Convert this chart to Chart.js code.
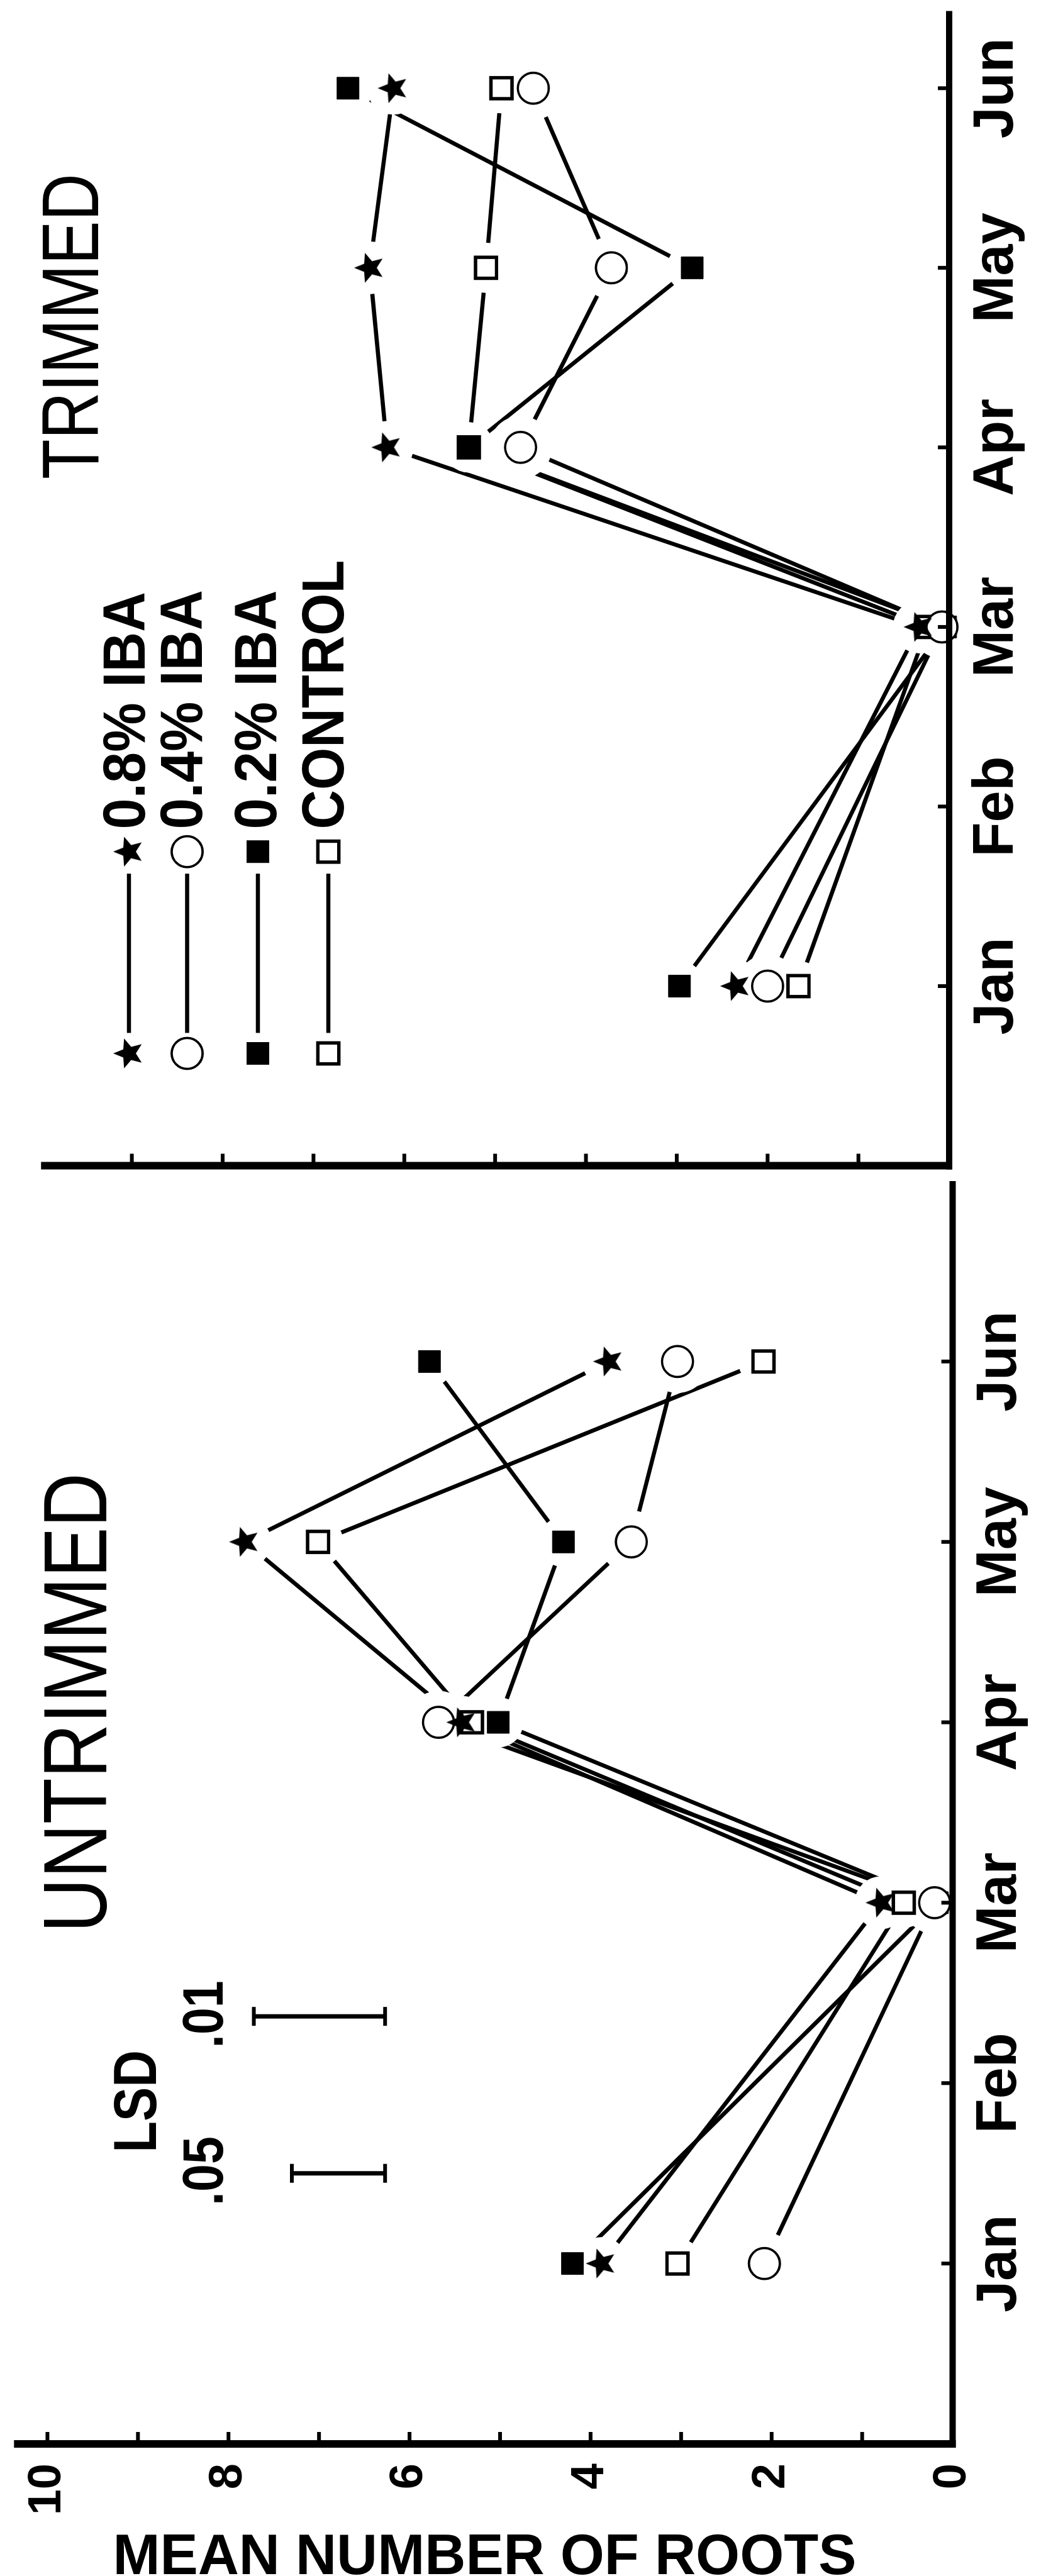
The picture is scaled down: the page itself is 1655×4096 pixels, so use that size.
<!DOCTYPE html>
<html><head><meta charset="utf-8">
<script src="https://cdn.jsdelivr.net/npm/chart.js@4/dist/chart.umd.min.js"></script>
<style>
html,body{margin:0;padding:0;background:#fff;}
body{width:1655px;height:4096px;overflow:hidden;position:relative;}
#rot{position:absolute;left:0;top:0;width:4096px;height:1655px;transform-origin:0 0;transform:translate(0px,4096px) rotate(-90deg);}
#rot canvas{position:absolute;top:0;}
</style></head><body>
<div id="rot">
<canvas id="cL" width="2240" height="1655" style="left:0px"></canvas>
<canvas id="cR" width="1916" height="1655" style="left:2180px"></canvas>
</div>
<script>
// ---------------- data ----------------
const months = ['Jan', 'Feb', 'Mar', 'Apr', 'May', 'Jun'];
const valueLabels = [0, 2, 4, 6, 8, 10];
const seriesNames = ['0.8% IBA', '0.4% IBA', '0.2% IBA', 'CONTROL'];
// UNTRIMMED (mean number of roots, Jan..Jun; no February sample)
const untrimmed08 = [3.88, null, 0.79, 5.42, 7.82, 3.80];
const untrimmed04 = [2.08, null, 0.20, 5.68, 3.55, 3.04];
const untrimmed02 = [4.20, null, 0.17, 5.02, 4.30, 5.78];
const untrimmedCtrl = [3.04, null, 0.54, 5.31, 7.01, 2.09];
// TRIMMED
const trimmed08 = [2.35, null, 0.33, 6.19, 6.38, 6.12];
const trimmed04 = [2.00, null, 0.08, 4.72, 3.72, 4.58];
const trimmed02 = [2.97, null, 0.04, 5.29, 2.83, 6.62];
const trimmedCtrl = [1.66, null, 0.24, 5.29, 5.10, 4.93];
// LSD bars
const lsdLabels = ['.05', '.01'];
const lsdValues = [1.03, 1.45];

// ---------------- styles / layout ----------------
function makeStar(R, r) {
  const c = document.createElement('canvas');
  const s = Math.ceil(2 * R + 4);
  c.width = s; c.height = s;
  const g = c.getContext('2d');
  g.translate(s / 2, s / 2);
  g.beginPath();
  for (let i = 0; i < 10; i++) {
    const rad = i % 2 ? r : R;
    const a = -Math.PI / 2 + i * Math.PI / 5;
    g.lineTo(rad * Math.cos(a), rad * Math.sin(a));
  }
  g.closePath();
  g.fillStyle = '#000';
  g.fill();
  return c;
}
const STAR = makeStar(25, 11);
const markerStyles = [
  { pointStyle: STAR, pointRadius: 25, bg: '#000', bw: 0, halo: 42 },
  { pointStyle: 'circle', pointRadius: 24.6, bg: '#fff', bw: 3.6, halo: 50 },
  { pointStyle: 'rect', pointRadius: 24.7, bg: '#000', bw: 1, halo: 40 },
  { pointStyle: 'rect', pointRadius: 23.6, bg: '#fff', bw: 5.4, halo: 40 }
];
const LINE_W = 6.5;

// font detection for narrow bold labels
const probe = document.createElement('canvas').getContext('2d');
probe.font = "bold 100px 'Liberation Sans Narrow', monospace";
const wN = probe.measureText('Mar May Jun').width;
probe.font = "bold 100px monospace";
const wM = probe.measureText('Mar May Jun').width;
const hasNarrow = Math.abs(wN - wM) > 2;
const tickFamily = hasNarrow ? "'Liberation Sans Narrow', 'Liberation Sans', Arial, sans-serif" : "'Liberation Sans', Arial, sans-serif";
const monthFontSize = hasNarrow ? 101 : 90;
const valueFontSize = hasNarrow ? 81 : 74;

function toPoints(arr) {
  return arr.map((v, i) => (v == null ? null : { x: i, y: v })).filter(Boolean);
}

function seriesDatasets(seriesArrays) {
  const ds = [];
  seriesArrays.forEach((arr, k) => {
    const pts = toPoints(arr);
    const m = markerStyles[k];
    ds.push({ label: seriesNames[k], data: pts, borderColor: '#000', borderWidth: LINE_W,
      pointRadius: 0, pointHoverRadius: 0, fill: false, tension: 0, clip: false, order: 3 });
    ds.push({ label: seriesNames[k] + ' gap', data: pts, showLine: false, pointStyle: 'circle',
      pointRadius: m.halo, pointHoverRadius: m.halo, pointBackgroundColor: '#fff', pointBorderColor: '#fff',
      pointBorderWidth: 0, clip: false, order: 2 });
    ds.push({ label: seriesNames[k] + ' marker', data: pts, showLine: false, pointStyle: m.pointStyle,
      pointRadius: m.pointRadius, pointHoverRadius: m.pointRadius, pointBackgroundColor: m.bg,
      pointBorderColor: '#000', pointBorderWidth: m.bw, clip: false, order: 1 });
  });
  return ds;
}

// ---------------- plugins ----------------
function seg(ctx, x1, y1, x2, y2) { ctx.beginPath(); ctx.moveTo(x1, y1); ctx.lineTo(x2, y2); ctx.stroke(); }

const handAxes = {
  id: 'handAxes',
  afterDatasetsDraw(chart, args, o) {
    const { ctx, chartArea: a, scales: { x, y } } = chart;
    const y0 = y.getPixelForValue(0);
    ctx.save();
    ctx.strokeStyle = '#000';
    ctx.lineCap = 'butt';
    ctx.lineWidth = o.monthAxisWidth;
    seg(ctx, a.left - o.valueAxisWidth / 2, y0, a.right, y0);
    ctx.lineWidth = o.valueAxisWidth;
    seg(ctx, a.left, y0 + o.monthAxisWidth / 2, a.left, y.getPixelForValue(o.valueAxisTop));
    ctx.lineWidth = o.tickWidth;
    y.ticks.forEach(t => {
      if (t.value > 0 && t.value <= o.lastValueTick) {
        const py = y.getPixelForValue(t.value);
        seg(ctx, a.left, py, a.left + o.valueAxisWidth / 2 + o.tickLen, py);
      }
    });
    x.ticks.forEach(t => {
      if (t.value >= 0 && t.value < months.length) {
        const px = x.getPixelForValue(t.value);
        seg(ctx, px, y0, px, y0 - o.monthAxisWidth / 2 - o.tickLen);
      }
    });
    ctx.restore();
  }
};

function drawFitted(ctx, t) {
  const size = t.cap / 0.70;
  ctx.save();
  ctx.font = (t.bold ? 'bold ' : '') + size + "px 'Liberation Sans', Arial, sans-serif";
  const w = ctx.measureText(t.text).width;
  ctx.translate(t.cx, t.cy);
  if (t.rot) ctx.rotate(t.rot);
  ctx.scale(t.width / w, 1);
  ctx.fillStyle = '#000';
  ctx.textAlign = 'center';
  ctx.textBaseline = 'alphabetic';
  ctx.fillText(t.text, 0, t.cap / 2);
  ctx.restore();
}

function drawMarker(ctx, k, u, v) {
  const m = markerStyles[k];
  ctx.save();
  ctx.strokeStyle = '#000';
  if (k === 0) {
    ctx.drawImage(STAR, u - STAR.width / 2, v - STAR.height / 2);
  } else if (m.pointStyle === 'circle') {
    ctx.beginPath(); ctx.arc(u, v, m.pointRadius, 0, 2 * Math.PI);
    ctx.fillStyle = m.bg; ctx.fill(); ctx.lineWidth = m.bw; ctx.stroke();
  } else {
    const h = m.pointRadius * Math.SQRT1_2;
    ctx.fillStyle = m.bg; ctx.fillRect(u - h, v - h, 2 * h, 2 * h);
    ctx.lineWidth = m.bw; ctx.strokeRect(u - h, v - h, 2 * h, 2 * h);
  }
  ctx.restore();
}

const textNotes = {
  id: 'textNotes',
  afterDraw(chart, args, o) {
    const ctx = chart.ctx;
    (o.items || []).forEach(t => drawFitted(ctx, t));
    const L = o.legend;
    if (L && L.rowV) {
      seriesNames.forEach((name, k) => {
        const v = L.rowV[k];
        ctx.save();
        ctx.strokeStyle = '#000'; ctx.lineWidth = LINE_W;
        seg(ctx, L.lineFrom, v, L.lineTo, v);
        ctx.restore();
        drawMarker(ctx, k, L.leftU, v);
        drawMarker(ctx, k, L.rightU, v);
        drawFitted(ctx, { text: name, cx: L.textU + L.textW[k] / 2, cy: L.textV[k], cap: L.cap, width: L.textW[k], bold: true });
      });
    }
  }
};

function baseOptions(cfg) {
  return {
    responsive: false, animation: false, devicePixelRatio: 1, events: [],
    layout: { autoPadding: false, padding: cfg.padding },
    plugins: {
      legend: { display: false }, tooltip: { enabled: false }, title: { display: false },
      handAxes: cfg.axes, textNotes: cfg.notes
    },
    scales: {
      x: {
        type: 'linear', min: -1, max: cfg.xMax,
        afterFit(s) { s.height = cfg.xAxisHeight; },
        grid: { display: false, drawTicks: false }, border: { display: false },
        ticks: {
          stepSize: 1, autoSkip: false, maxRotation: 0, minRotation: 0, includeBounds: false,
          padding: 22, color: '#000',
          font: { family: tickFamily, size: monthFontSize, weight: 'bold' },
          callback: v => (Number.isInteger(v) && months[v] !== undefined ? months[v] : '')
        }
      },
      y: {
        type: 'linear', min: 0, max: 10,
        afterFit(s) { s.width = cfg.yAxisWidth; },
        grid: { display: false, drawTicks: false }, border: { display: false },
        ticks: {
          display: cfg.showValueLabels, stepSize: 1, autoSkip: false, padding: 31, color: '#000',
          font: { family: tickFamily, size: valueFontSize, weight: 'bold' },
          callback: v => (valueLabels.includes(v) ? String(v) : '')
        }
      }
    }
  };
}

// ---------------- UNTRIMMED chart ----------------
const lsdPos = [0.5, 1.37];
const lsdBase = 6.27;
const leftDatasets = seriesDatasets([untrimmed08, untrimmed04, untrimmed02, untrimmedCtrl]);
lsdValues.forEach((v, i) => {
  leftDatasets.push({ label: 'LSD ' + lsdLabels[i],
    data: [{ x: lsdPos[i], y: lsdBase }, { x: lsdPos[i], y: lsdBase + v }],
    borderColor: '#000', borderWidth: 7, pointStyle: 'line', pointRadius: 15, pointHoverRadius: 15,
    pointBorderColor: '#000', pointBorderWidth: 6, fill: false, tension: 0, clip: false, order: 0 });
});

new Chart(document.getElementById('cL'), {
  type: 'line',
  data: { datasets: leftDatasets },
  plugins: [handAxes, textNotes],
  options: baseOptions({
    padding: { left: 0, top: 71.5, right: 21.5, bottom: 0 },
    xMax: 6, xAxisHeight: 140.4, yAxisWidth: 210, showValueLabels: true,
    axes: { monthAxisWidth: 10, valueAxisWidth: 12, tickWidth: 6, tickLen: 13, lastValueTick: 10, valueAxisTop: 10.37 },
    notes: {
      items: [
        { text: 'MEAN NUMBER OF ROOTS', cx: 34.3, cy: 770.5, cap: 63, width: 1182, bold: true, rot: Math.PI / 2 },
        { text: 'UNTRIMMED', cx: 1388.5, cy: 118.5, cap: 100, width: 731, bold: false },
        { text: 'LSD', cx: 754.7, cy: 213.6, cap: 68, width: 163, bold: true },
        { text: lsdLabels[0], cx: 644, cy: 322, cap: 63, width: 110, bold: true },
        { text: lsdLabels[1], cx: 893, cy: 322, cap: 63, width: 107, bold: true }
      ]
    }
  })
});

// ---------------- TRIMMED chart ----------------
new Chart(document.getElementById('cR'), {
  type: 'line',
  data: { datasets: seriesDatasets([trimmed08, trimmed04, trimmed02, trimmedCtrl]) },
  plugins: [handAxes, textNotes],
  options: baseOptions({
    padding: { left: 0, top: 65.2, right: 17.5, bottom: 0 },
    xMax: 5.43, xAxisHeight: 145.9, yAxisWidth: 62.5, showValueLabels: false,
    axes: { monthAxisWidth: 10, valueAxisWidth: 12, tickWidth: 6, tickLen: 13, lastValueTick: 9, valueAxisTop: 10 },
    notes: {
      items: [
        { text: 'TRIMMED', cx: 1397, cy: 111.5, cap: 89, width: 486, bold: false }
      ],
      legend: {
        leftU: 241, lineFrom: 273.6, lineTo: 526.8, rightU: 561.8, textU: 597.5,
        rowV: [205, 297.5, 410, 522], textV: [197, 288, 405.5, 512.6],
        textW: [377.5, 380.6, 380, 428], cap: 66
      }
    }
  })
});
</script>
</body></html>
